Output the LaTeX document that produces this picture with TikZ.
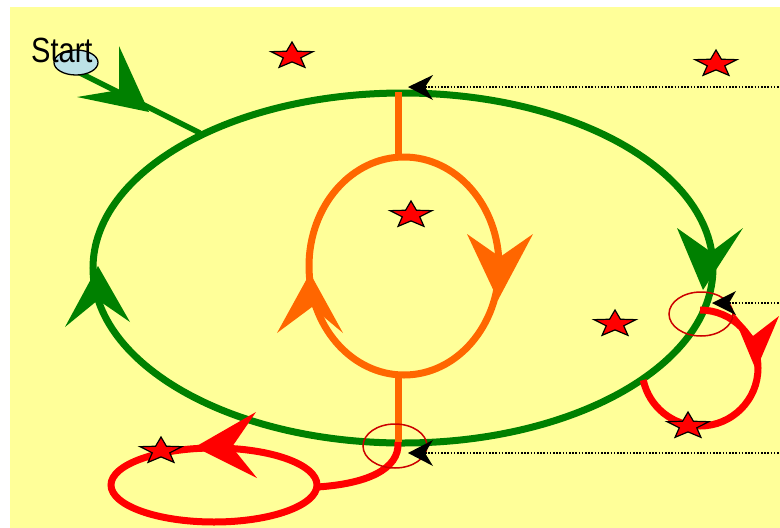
\documentclass[tikz,border=0pt]{standalone}
\usepackage{fontspec}
\usepackage{graphicx}
\setmainfont{Liberation Sans}
\usetikzlibrary{shapes.geometric}
\definecolor{bgyellow}{HTML}{FFFF99}
\definecolor{dkgreen}{HTML}{008000}
\definecolor{orng}{HTML}{FF6600}
\definecolor{thinred}{HTML}{CC0000}
\definecolor{startblue}{HTML}{BCE1E6}
\begin{document}
\begin{tikzpicture}[x=1pt,y=-1pt,
  greenline/.style={draw=dkgreen, line width=7pt},
  orangeline/.style={draw=orng, line width=7pt},
  redline/.style={draw=red, line width=7pt},
  marker/.style={draw=thinred, line width=1.5pt},
  guide/.style={draw=black, line width=1.6pt, dash pattern=on 1.6pt off 1.6pt},
  redstar/.pic={\filldraw[fill=red, draw=black, line width=1.2pt, line join=miter]
     (0,-14) -- (5.41,-4.77) -- (20.92,-4.33) -- (8.75,1.82) -- (12.93,11.33)
     -- (0,5.9) -- (-12.93,11.33) -- (-8.75,1.82) -- (-20.92,-4.33) -- (-5.41,-4.77) -- cycle;}
]
\useasboundingbox (0,0) rectangle (780,528);
\fill[white] (0,0) rectangle (780,528);
\fill[bgyellow] (10,7) rectangle (780,528);

% named points
\coordinate (outerc) at (403,268);
\coordinate (innerc) at (404,266);
\coordinate (topjoin) at (398,92);
\coordinate (innertop) at (398,158);
\coordinate (innerbot) at (398,375);
\coordinate (botjoin) at (398,442);
\coordinate (sA) at (72,69);
\coordinate (sB) at (200,133);
\coordinate (loopc) at (214,485);
\coordinate (loopE) at (317,487);
\coordinate (rtop) at (700,310);

% green outer loop
\draw[greenline] (outerc) ellipse [x radius=310pt, y radius=175pt];

% orange inner loop
\draw[orangeline] (topjoin) -- (innertop);
\draw[orangeline] (innerc) ellipse [x radius=95pt, y radius=109pt];
\draw[orangeline] (innerbot) -- (botjoin);
\fill[orng] (498,300) -- (467,234) -- (500,257) -- (533,234) -- cycle;
\fill[orng] (310,273) -- (277,333) -- (312,307) -- (343,333) -- cycle;

% green start line and arrows
\draw[draw=dkgreen, line width=5.5pt] (sA) -- (sB);
\fill[dkgreen] (149,112) -- (119,46) -- (119,90) -- (77,97) -- cycle;
\fill[dkgreen] (703,290) -- (677,228) -- (711,252) -- (743,228) -- cycle;
\fill[dkgreen] (98,266) -- (65,327) -- (98,300) -- (130,322) -- cycle;

% start node
\node[ellipse, draw=black, fill=startblue, line width=1.3pt, inner sep=0pt,
      minimum width=44pt, minimum height=25pt] (start) at (76,62.5) {};
\node[anchor=base west, inner sep=0pt, font=\fontsize{35}{40}\selectfont]
      (starttext) at (31,62) {\scalebox{0.83}[1]{Start}};

% red paths
\draw[redline] (botjoin) .. controls (400,470) and (365,484) .. (loopE);
\draw[redline] (loopc) ellipse [x radius=103pt, y radius=37pt];
\fill[red] (195,447) -- (256,412) -- (232,447) -- (257,478) -- cycle;
\draw[redline] (rtop) arc[start angle=90, end angle=-168, radius=58pt];
\fill[red] (756,370) -- (731,310) -- (753,336) -- (779,316) -- cycle;

% thin markers
\draw[marker] (701,314) ellipse [x radius=32pt, y radius=22pt];
\draw[marker] (395,446) ellipse [x radius=32pt, y radius=22pt];

% dotted guides with black heads
\coordinate (g1) at (425,87);   \coordinate (g1e) at (780,87);
\coordinate (g2) at (729,303);  \coordinate (g2e) at (780,303);
\coordinate (g3) at (425,453);  \coordinate (g3e) at (780,453);
\draw[guide] (g1) -- (g1e);
\draw[guide] (g2) -- (g2e);
\draw[guide] (g3) -- (g3e);
\fill[black] (408,87) -- (433,75) -- (425,87) -- (433,100) -- cycle;
\fill[black] (712,303) -- (736,291) -- (729,303) -- (736,315) -- cycle;
\fill[black] (408,453) -- (433,440) -- (425,453) -- (433,466) -- cycle;

% stars
\pic at (292,56) {redstar};
\pic at (716,64) {redstar};
\pic at (411,215) {redstar};
\pic at (615,324) {redstar};
\pic at (688,426) {redstar};
\pic at (161,451) {redstar};
\end{tikzpicture}
\end{document}
